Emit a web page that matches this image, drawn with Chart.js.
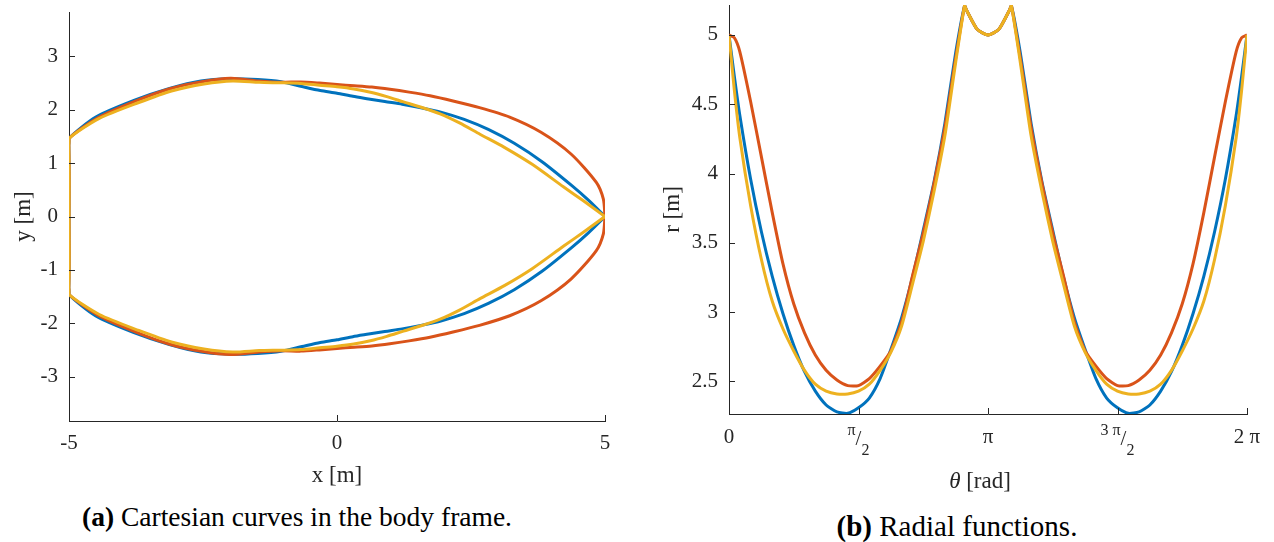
<!DOCTYPE html>
<html>
<head>
<meta charset="utf-8">
<title>Body frame curves</title>
<script src="https://cdn.jsdelivr.net/npm/chart.js@4.4.1/dist/chart.umd.min.js"></script>
<style>
    html, body { margin: 0; padding: 0; background: #fff; }
    body { width: 1274px; height: 542px; position: relative; overflow: hidden; font-family: 'Liberation Serif', 'DejaVu Serif', serif; }
    .panel { position: absolute; top: 0; width: 637px; height: 500px; }
    #panelA { left: 0; }
    #panelB { left: 637px; }
    .caption { position: absolute; line-height: 30px; color: #000; white-space: nowrap; transform: translateX(-50%); }
</style>
</head>
<body>
<div class="panel" id="panelA"><canvas id="cartesianChart" width="637" height="500"></canvas></div>
<div class="panel" id="panelB"><canvas id="radialChart" width="637" height="500"></canvas></div>
<div class="caption" style="left: 297px; top: 502px; font-size: 27.5px;"><b>(a)</b> Cartesian curves in the body frame.</div>
<div class="caption" style="left: 957px; top: 511px; font-size: 29px;"><b>(b)</b> Radial functions.</div>

<script>
// polar angle samples (rad) shared by all three shapes
const theta = [
    0, 0.065, 0.131, 0.262, 0.393, 0.524, 0.654, 0.785, 0.916, 1.047, 1.178, 1.309, 1.440,
    1.571, 1.702, 1.833, 1.963, 2.094, 2.225, 2.356, 2.487, 2.618, 2.749, 2.857, 2.880, 3.011,
    3.142, 3.273, 3.403, 3.426, 3.534, 3.665, 3.796, 3.927, 4.058, 4.189, 4.320, 4.451, 4.581,
    4.712, 4.843, 4.974, 5.105, 5.236, 5.367, 5.498, 5.629, 5.760, 5.890, 6.021, 6.152, 6.218, 6.283
];

// radius r(theta) in metres for each shape
const rShape1 = [
    5.00, 4.70, 4.42, 3.96, 3.58, 3.26, 2.99, 2.76, 2.57, 2.43, 2.33, 2.28, 2.27,
    2.31, 2.38, 2.52, 2.73, 2.96, 3.25, 3.59, 3.94, 4.36, 4.87, 5.21, 5.18, 5.04,
    5.00, 5.04, 5.18, 5.21, 4.87, 4.36, 3.94, 3.59, 3.25, 2.96, 2.73, 2.52, 2.38,
    2.31, 2.27, 2.28, 2.33, 2.43, 2.57, 2.76, 2.99, 3.26, 3.58, 3.96, 4.42, 4.70, 5.00
];
const rShape2 = [
    5.00, 4.98, 4.88, 4.52, 4.12, 3.72, 3.35, 3.06, 2.85, 2.69, 2.58, 2.51, 2.47,
    2.47, 2.52, 2.61, 2.72, 2.93, 3.26, 3.57, 3.93, 4.33, 4.83, 5.21, 5.18, 5.04,
    5.00, 5.04, 5.18, 5.21, 4.83, 4.33, 3.93, 3.57, 3.26, 2.93, 2.72, 2.61, 2.52,
    2.47, 2.47, 2.51, 2.58, 2.69, 2.85, 3.06, 3.35, 3.72, 4.12, 4.52, 4.88, 4.98, 5.00
];
const rShape3 = [
    5.00, 4.60, 4.26, 3.77, 3.38, 3.08, 2.88, 2.72, 2.58, 2.48, 2.43, 2.41, 2.41,
    2.43, 2.48, 2.58, 2.71, 2.90, 3.20, 3.51, 3.87, 4.27, 4.80, 5.21, 5.18, 5.04,
    5.00, 5.04, 5.18, 5.21, 4.80, 4.27, 3.87, 3.51, 3.20, 2.90, 2.71, 2.58, 2.48,
    2.43, 2.41, 2.41, 2.43, 2.48, 2.58, 2.72, 2.88, 3.08, 3.38, 3.77, 4.26, 4.60, 5.00
];

const xTicksCart = [-5, 0, 5];
const yTicksCart = [-3, -2, -1, 0, 1, 2, 3];
const rTicks = [2.5, 3, 3.5, 4, 4.5, 5];
const thetaTicks = [0, Math.PI / 2, Math.PI, 3 * Math.PI / 2, 2 * Math.PI];
// single entry = plain label, two entries = numerator / denominator
const thetaTickLabels = [['0'], ['π', '2'], ['π'], ['3 π', '2'], ['2 π']];

const shapes = [rShape1, rShape2, rShape3];
const lineColors = ['#0072BD', '#D95319', '#EDB120'];

const SERIF = "'Liberation Serif', 'DejaVu Serif', serif";
const textColor = '#262626';
const axisColor = '#262626';

// Matlab-style ticks pointing into the plot area
const insideTicks = {
    id: 'insideTicks',
    afterDatasetsDraw(chart) {
        const { ctx, chartArea } = chart;
        const len = 6;
        ctx.save();
        ctx.strokeStyle = axisColor;
        ctx.lineWidth = 1;
        ctx.beginPath();
        chart.scales.x.ticks.forEach(t => {
            const px = Math.round(chart.scales.x.getPixelForValue(t.value)) + 0.5;
            ctx.moveTo(px, chartArea.bottom);
            ctx.lineTo(px, chartArea.bottom - len);
        });
        chart.scales.y.ticks.forEach(t => {
            const py = Math.round(chart.scales.y.getPixelForValue(t.value)) + 0.5;
            ctx.moveTo(chartArea.left, py);
            ctx.lineTo(chartArea.left + len, py);
        });
        ctx.stroke();
        ctx.restore();
    }
};

// fraction tick labels and the theta axis title
const thetaAxisText = {
    id: 'thetaAxisText',
    afterDraw(chart) {
        const { ctx, chartArea } = chart;
        const scale = chart.scales.x;
        const base = chartArea.bottom;
        ctx.save();
        ctx.fillStyle = textColor;
        ctx.textBaseline = 'middle';
        ctx.textAlign = 'left';
        thetaTicks.forEach((v, i) => {
            const x = scale.getPixelForValue(v);
            const parts = thetaTickLabels[i];
            if (parts.length === 1) {
                ctx.font = `21px ${SERIF}`;
                const w = ctx.measureText(parts[0]).width;
                ctx.fillText(parts[0], x - w / 2, base + 23);
                return;
            }
            ctx.font = `16px ${SERIF}`;
            const wNum = ctx.measureText(parts[0]).width;
            const wDen = ctx.measureText(parts[1]).width;
            ctx.font = `21px ${SERIF}`;
            const wSlash = ctx.measureText('/').width;
            let left = x - (wNum + wSlash + wDen) / 2;
            ctx.font = `16px ${SERIF}`;
            ctx.fillText(parts[0], left, base + 17);
            left += wNum;
            ctx.font = `21px ${SERIF}`;
            ctx.fillText('/', left, base + 25);
            left += wSlash;
            ctx.font = `16px ${SERIF}`;
            ctx.fillText(parts[1], left, base + 37);
        });

        // "θ [rad]" with an italic theta
        const cx = (chartArea.left + chartArea.right) / 2 - 8;
        const cy = base + 68;
        ctx.font = `italic 23px ${SERIF}`;
        const wTheta = ctx.measureText('θ').width;
        ctx.font = `23px ${SERIF}`;
        const wRest = ctx.measureText(' [rad]').width;
        const left = cx - (wTheta + wRest) / 2;
        ctx.font = `italic 23px ${SERIF}`;
        ctx.fillText('θ', left, cy);
        ctx.font = `23px ${SERIF}`;
        ctx.fillText(' [rad]', left + wTheta, cy);
        ctx.restore();
    }
};

function makeDatasets(pointsOf, tension) {
    return shapes.map((r, i) => ({
        data: pointsOf(r),
        borderColor: lineColors[i],
        borderWidth: 3,
        pointRadius: 0,
        tension: tension,
        fill: false,
        showLine: true,
        order: shapes.length - 1 - i
    }));
}

const tickFont = { family: SERIF, size: 21 };
const titleFont = { family: SERIF, size: 23 };

// axis with only a base line, labels outside and no label overhang padding
function axisOptions(extra) {
    return Object.assign({
        type: 'linear',
        grid: { display: false, drawTicks: false },
        border: { display: true, color: axisColor, width: 1 }
    }, extra);
}

function fixSize(prop, size) {
    return s => {
        s[prop] = size;
        s.paddingTop = 0;
        s.paddingBottom = 0;
        s.paddingLeft = 0;
        s.paddingRight = 0;
    };
}

const commonOptions = {
    responsive: false,
    animation: false,
    events: [],
    plugins: { legend: { display: false }, tooltip: { enabled: false } }
};

// (a) curves in the body frame: x = r cos(theta), y = r sin(theta)
new Chart(document.getElementById('cartesianChart'), {
    type: 'scatter',
    data: {
        datasets: makeDatasets(r => theta.map((t, k) => ({ x: r[k] * Math.cos(t), y: r[k] * Math.sin(t) })), 0.25)
    },
    options: Object.assign({}, commonOptions, {
        layout: { padding: { top: 12, right: 32, bottom: 0, left: 0 } },
        scales: {
            x: axisOptions({
                min: -5, max: 5,
                afterBuildTicks: s => { s.ticks = xTicksCart.map(v => ({ value: v })); },
                afterFit: fixSize('height', 79),
                ticks: { font: tickFont, color: textColor, padding: 10, maxRotation: 0, autoSkip: false, callback: v => String(v) },
                title: { display: true, text: 'x [m]', color: textColor, font: titleFont, padding: { top: 0, bottom: 10 } }
            }),
            y: axisOptions({
                min: -3.83, max: 3.83,
                afterBuildTicks: s => { s.ticks = yTicksCart.map(v => ({ value: v })); },
                afterFit: fixSize('width', 69),
                ticks: { font: tickFont, color: textColor, padding: 11, autoSkip: false, callback: v => String(v) },
                title: { display: true, text: 'y [m]', color: textColor, font: titleFont, padding: { top: 10, bottom: 0 } }
            })
        }
    }),
    plugins: [insideTicks]
});

// (b) radial functions r(theta)
new Chart(document.getElementById('radialChart'), {
    type: 'line',
    data: {
        datasets: makeDatasets(r => theta.map((t, k) => ({ x: t, y: r[k] })), 0.2)
    },
    options: Object.assign({}, commonOptions, {
        layout: { padding: { top: 5, right: 27, bottom: 0, left: 0 } },
        scales: {
            x: axisOptions({
                min: 0, max: 2 * Math.PI,
                afterBuildTicks: s => { s.ticks = thetaTicks.map(v => ({ value: v })); },
                afterFit: fixSize('height', 86),
                ticks: { display: true, callback: () => '', autoSkip: false, maxRotation: 0 }
            }),
            y: axisOptions({
                min: 2.265, max: 5.216,
                afterBuildTicks: s => { s.ticks = rTicks.map(v => ({ value: v })); },
                afterFit: fixSize('width', 92),
                ticks: { font: tickFont, color: textColor, padding: 11, autoSkip: false, callback: v => String(v) },
                title: { display: true, text: 'r [m]', color: textColor, font: titleFont, padding: { top: 22, bottom: 0 } }
            })
        }
    }),
    plugins: [insideTicks, thetaAxisText]
});
</script>
</body>
</html>
